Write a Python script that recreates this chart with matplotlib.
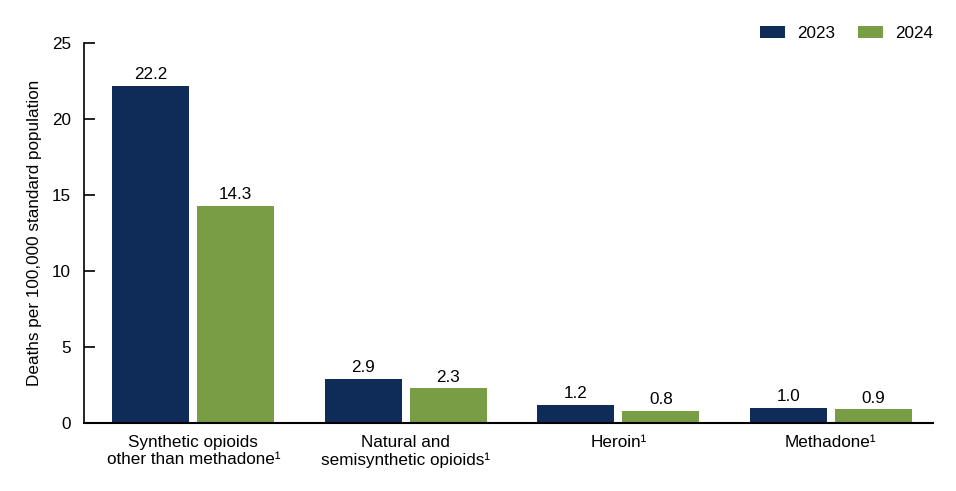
import numpy as np
import matplotlib.pyplot as plt
from matplotlib.patches import Patch

plt.rcParams['font.family'] = ['Liberation Sans', 'DejaVu Sans']

categories = ['Synthetic opioids\nother than methadone\u00b9',
              'Natural and\nsemisynthetic opioids\u00b9',
              'Heroin\u00b9',
              'Methadone\u00b9']
rates_2023 = [22.2, 2.9, 1.2, 1.0]
rates_2024 = [14.3, 2.3, 0.8, 0.9]
years = ['2023', '2024']
colors = ['#0f2b57', '#789d45']
fs = 12.3

fig = plt.figure(figsize=(9.56, 4.91), dpi=100)
ax = fig.add_axes([0.0879, 0.1385, 0.976 - 0.0879, 0.9124 - 0.1385])

x = np.arange(len(categories))
w = 0.362
off = 0.2
b1 = ax.bar(x - off, rates_2023, w, color=colors[0])
b2 = ax.bar(x + off, rates_2024, w, color=colors[1])

for bars, vals in [(b1, rates_2023), (b2, rates_2024)]:
    for b, v in zip(bars, vals):
        ax.annotate(f'{v:.1f}', (b.get_x() + b.get_width() / 2, v),
                    xytext=(0, 2.5), textcoords='offset points',
                    ha='center', va='bottom', fontsize=fs)

ax.set_xlim(-0.514, 3.481)
ax.set_ylim(0, 25)
ax.set_yticks([0, 5, 10, 15, 20, 25])
ax.set_xticks(x)
ax.set_xticklabels(categories, fontsize=fs, linespacing=1.15)
ax.tick_params(axis='x', length=0, pad=9)
ax.tick_params(axis='y', direction='in', length=8, width=1.2, labelsize=fs, pad=9.5)
ax.spines['top'].set_visible(False)
ax.spines['right'].set_visible(False)
ax.spines['left'].set_linewidth(1.2)
ax.spines['bottom'].set_linewidth(1.5)
ax.set_ylabel('Deaths per 100,000 standard population', fontsize=fs, labelpad=7)

handles = [Patch(facecolor=c) for c in colors]
fig.legend(handles, years, loc='upper right', bbox_to_anchor=(0.992, 0.978),
           ncol=2, frameon=False, fontsize=fs, handlelength=1.45,
           handleheight=0.72, handletextpad=0.7, columnspacing=1.35)

fig.savefig('out.png', dpi=100)
